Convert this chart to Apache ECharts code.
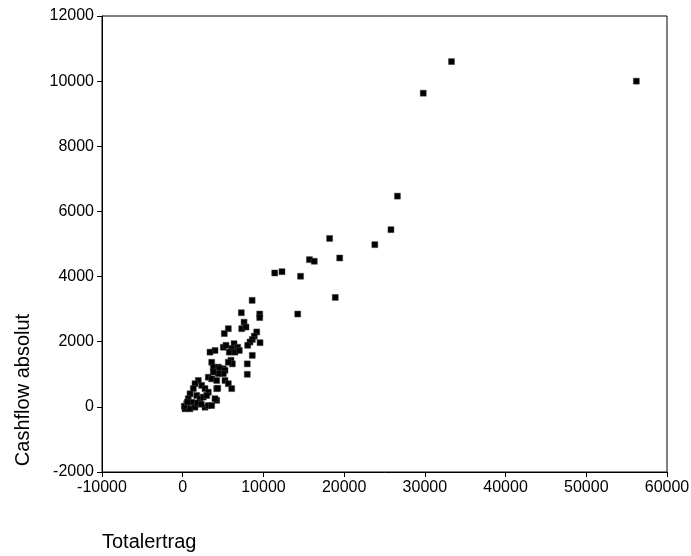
<!DOCTYPE html>
<html>
<head>
<meta charset="utf-8">
<script src="https://cdn.jsdelivr.net/npm/echarts@6/dist/echarts.min.js"></script>
<style>
  html, body { margin: 0; padding: 0; background: #fff; }
  #chart { width: 691px; height: 556px; }
</style>
</head>
<body>
<div id="chart"></div>
<script>
// Totalertrag (x) and Cashflow absolut (y) per case
const totalertrag = [
  56200, 33300, 29800, 26600, 25800, 23800, 18200, 19450, 15700, 16300,
  11400, 12300, 14600, 18900, 14250, 8600, 7260, 9540, 9540, 7600,
  7310, 7840, 5650, 5150, 9170, 8870, 8620, 8340, 8050, 9580,
  6360, 6810, 6070, 5770, 6480, 7010, 5030, 5360, 4000, 3380,
  8620, 3590, 3790, 4410, 5030, 5980, 6150, 8000, 5650, 4620,
  5240, 5030, 4410, 3790, 3170, 3590, 4210, 5240, 5650, 6070,
  4210, 1930, 1520, 2350, 2760, 1310, 900, 690, 500, 1120,
  1730, 2140, 2550, 280, 900, 1520, 2760, 3170, 3590, 4210,
  4000, 3170, 2970, 8000, 4340, 200, 600, 1800, 2300
];
const cashflowAbsolut = [
  10000, 10600, 9630, 6470, 5440, 4980, 5170, 4570, 4520, 4470,
  4110, 4150, 4010, 3360, 2850, 3270, 2890, 2850, 2740, 2600,
  2400, 2450, 2400, 2250, 2300, 2170, 2070, 1990, 1890, 1970,
  1940, 1830, 1790, 1680, 1680, 1730, 1830, 1890, 1730, 1680,
  1580, 1370, 1220, 1220, 1170, 1430, 1320, 1320, 1370, 1170,
  1120, 1020, 1020, 1070, 910, 860, 810, 810, 710, 560,
  560, 810, 710, 660, 560, 560, 400, 250, 100, 140,
  350, 250, 300, -60, -60, -10, -10, 40, 40, 200,
  250, 450, 350, 1000, 570, 20, 150, 120, 80
];

// Axis ranges and tick spacing
const xRange = { min: -10000, max: 60000, step: 10000 };
const yRange = { min: -2000, max: 12000, step: 2000 };

const points = totalertrag.map((x, i) => [x, cashflowAbsolut[i]]);

const chart = echarts.init(document.getElementById('chart'), null, { renderer: 'canvas' });
const fontFamily = '"Liberation Sans", Arial, sans-serif';

const axisCommon = {
  axisLine: { show: true, onZero: false, lineStyle: { color: '#000', width: 1 } },
  axisTick: { show: true, inside: false, length: 5, lineStyle: { color: '#000', width: 1 } },
  splitLine: { show: false },
  axisLabel: {
    color: '#000', fontSize: 16, fontFamily: fontFamily, margin: 8,
    formatter: (v) => String(v)
  }
};

chart.setOption({
  animation: false,
  backgroundColor: '#fff',
  grid: {
    left: 102, right: 24, top: 16, bottom: 84,
    outerBoundsMode: 'none', containLabel: false,
    show: true, borderColor: '#000', borderWidth: 1, backgroundColor: 'transparent'
  },
  xAxis: Object.assign({
    type: 'value', min: xRange.min, max: xRange.max, interval: xRange.step
  }, axisCommon),
  yAxis: Object.assign({
    type: 'value', min: yRange.min, max: yRange.max, interval: yRange.step
  }, axisCommon),
  series: [{
    type: 'scatter',
    data: points,
    symbol: 'rect',
    symbolSize: 6,
    itemStyle: { color: '#000', borderColor: '#444', borderWidth: 0.5, opacity: 1 }
  }],
  graphic: [
    {
      type: 'text', left: 102, top: 532,
      style: { text: 'Totalertrag', fill: '#000', font: '20px ' + fontFamily }
    },
    {
      type: 'text', x: 23, y: 390, rotation: Math.PI / 2,
      style: {
        text: 'Cashflow absolut', fill: '#000', font: '20px ' + fontFamily,
        align: 'center', verticalAlign: 'middle'
      }
    }
  ]
});
</script>
</body>
</html>
